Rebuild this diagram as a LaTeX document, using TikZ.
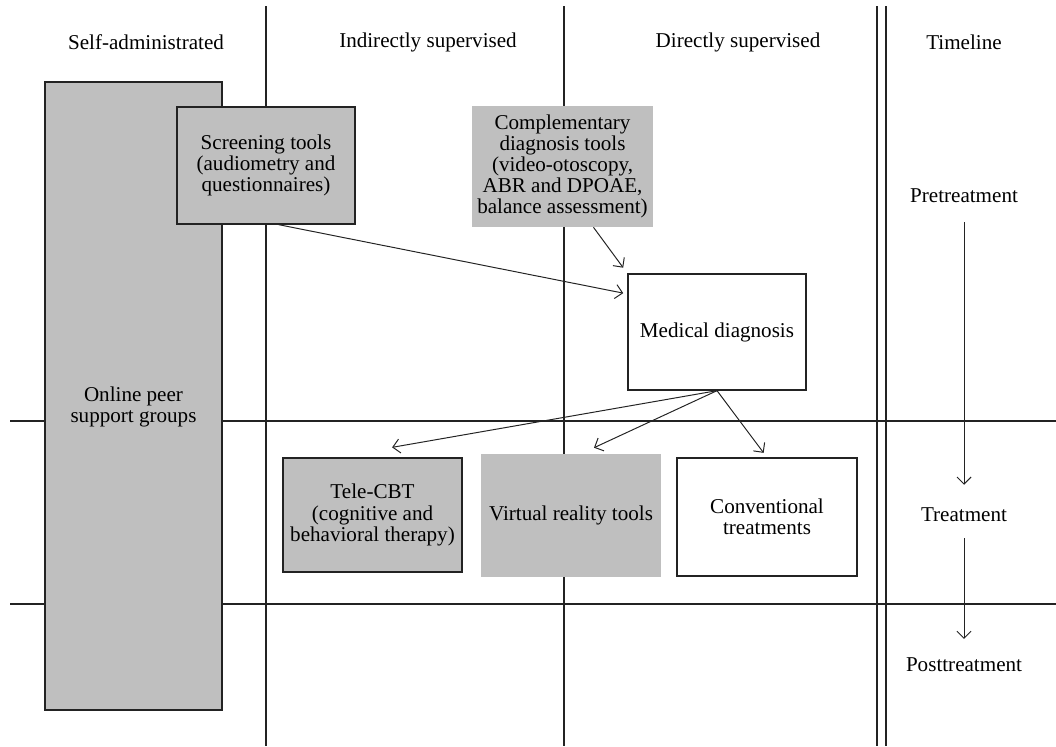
\documentclass[tikz,border=0pt]{standalone}
\usepackage{fontspec}
\setmainfont{Liberation Serif}
\usetikzlibrary{arrows.meta}
\definecolor{boxgray}{RGB}{191,191,191}
\definecolor{linegray}{RGB}{35,35,35}

\begin{document}
\begin{tikzpicture}[x=0.025cm, y=-0.025cm,
    every node/.style={font=\fontsize{15}{15}\selectfont, align=center},
    graybox/.style={draw=linegray, fill=boxgray, line width=0.9pt, inner sep=2pt},
    flatbox/.style={fill=boxgray, inner sep=2pt},
    whitebox/.style={draw=linegray, fill=white, line width=0.9pt, inner sep=2pt},
    arr/.style={-{Straight Barb[length=5pt,width=10pt]}, line width=0.7pt, linegray}]
    \useasboundingbox (0,0) rectangle (1056,746);
    % Grid
    \draw[line width=0.9pt, linegray] (266,6) -- (266,746);
    \draw[line width=0.9pt, linegray] (564,6) -- (564,746);
    \draw[line width=0.9pt, linegray] (877,6) -- (877,746);
    \draw[line width=0.9pt, linegray] (886,6) -- (886,746);
    \draw[line width=0.9pt, linegray] (10,421) -- (1056,421);
    \draw[line width=0.9pt, linegray] (10,604) -- (1056,604);
    % Column headers
    \node (hself) at (146,42) {Self-administrated};
    \node (hind) at (428,42) {Indirectly supervised};
    \node (hdir) at (738,42) {Directly supervised};
    \node (htime) at (964,42) {Timeline};
    % Boxes
    \node[graybox, minimum width=4.425cm, minimum height=15.7cm] (peer) at (133.5,396) {\rule{0pt}{26pt}Online peer\\support groups};
    \node[graybox, minimum width=4.45cm, minimum height=2.925cm] (scr) at (266,165.5) {Screening tools\\(audiometry and\\questionnaires)};
    \node[flatbox, minimum width=4.525cm, minimum height=3.025cm] (comp) at (562.5,166.5) {Complementary\\diagnosis tools\\(video-otoscopy,\\ABR and DPOAE,\\balance assessment)};
    \node[whitebox, minimum width=4.45cm, minimum height=2.9cm] (med) at (717,332) {Medical diagnosis};
    \node[graybox, minimum width=4.475cm, minimum height=2.85cm] (tele) at (372.5,515) {Tele-CBT\\(cognitive and\\behavioral therapy)};
    \node[flatbox, minimum width=4.5cm, minimum height=3.075cm] (vr) at (571,515.5) {Virtual reality tools};
    \node[whitebox, minimum width=4.5cm, minimum height=2.95cm] (conv) at (767,517) {Conventional\\treatments};
    % Timeline
    \node (pre) at (964,196) {Pretreatment};
    \node (treat) at (964,515) {Treatment};
    \node (post) at (964,665) {Posttreatment};
    % Arrows
    \draw[arr, shorten >=3pt] (scr.-78) -- (med.157);
    \draw[arr, shorten >=5pt] (comp.-63) -- (med.north west);
    \draw[arr] (med.south) -- ([xshift=0.49cm, yshift=0.25cm]tele.north);
    \draw[arr] (med.south) -- ([xshift=0.575cm, yshift=0.15cm]vr.north);
    \draw[arr, shorten >=4pt] (med.south) -- (conv.north);
    \draw[arr, shorten <=10pt, shorten >=13pt] (pre) -- (treat);
    \draw[arr, shorten <=8pt, shorten >=10pt] (treat) -- (post);
\end{tikzpicture}
\end{document}
